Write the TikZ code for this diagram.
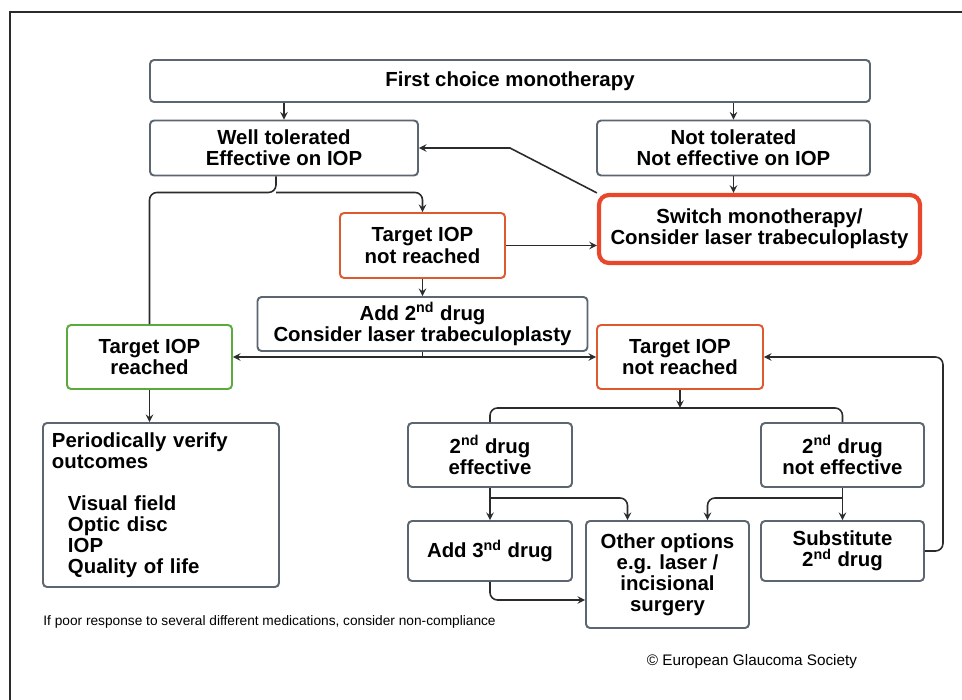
\documentclass[tikz,border=0pt]{standalone}
\usepackage{fontspec}
\setmainfont{Liberation Sans}
\usetikzlibrary{shapes.geometric, arrows}
\definecolor{boxgray}{HTML}{5C6670}
\definecolor{missred}{HTML}{DD5A2E}
\definecolor{switchred}{HTML}{E8472B}
\definecolor{okgreen}{HTML}{5AAA3C}
\definecolor{linegray}{HTML}{2B2B2B}
\tikzstyle{process} = [rectangle, rounded corners=0.08cm, align=center, draw=boxgray, line width=1.1pt, fill=white, inner sep=0.1cm, font=\bfseries\fontsize{11.6}{12}\selectfont]
\tikzstyle{notreached} = [process, draw=missred]
\tikzstyle{reached} = [process, draw=okgreen]
\tikzstyle{switchbox} = [process, draw=switchred, line width=2.4pt, rounded corners=0.2cm]
\tikzstyle{arrow} = [->,>=stealth, line width=0.9pt, draw=linegray]
\tikzstyle{branch} = [line width=0.9pt, draw=linegray, rounded corners=0.15cm]

\begin{document}
\begin{tikzpicture}[node distance=1cm]
\useasboundingbox (0,0) rectangle (19.24,-14);
%frame
\draw[linegray, line width=0.7pt] (19.24,-0.24) -- (0.2,-0.24) -- (0.2,-14);
%boxes
\node[process, minimum width=14.4cm, minimum height=0.84cm](first) at (10.2,-1.62){First choice monotherapy};
\node[process, below of=first, xshift=-4.52cm, yshift=-0.34cm, minimum width=5.36cm, minimum height=1.1cm](well){Well tolerated\\Effective on IOP};
\node[process, below of=first, xshift=4.47cm, yshift=-0.34cm, minimum width=5.46cm, minimum height=1.1cm](nottol){Not tolerated\\Not effective on IOP};
\node[switchbox, below of=nottol, xshift=0.52cm, yshift=-0.62cm, minimum width=6.42cm, minimum height=1.36cm](switch){Switch monotherapy/\\Consider laser trabeculoplasty};
\node[notreached, below of=well, xshift=2.77cm, yshift=-0.95cm, minimum width=3.3cm, minimum height=1.3cm](miss1){Target IOP\\not reached};
\node[process, below of=miss1, yshift=-0.57cm, minimum width=6.6cm, minimum height=1.08cm](add2){Add 2\textsuperscript{nd} drug\\Consider laser trabeculoplasty};
\node[reached, below of=well, xshift=-2.69cm, yshift=-3.18cm, minimum width=3.3cm, minimum height=1.28cm](reach){Target IOP\\reached};
\node[notreached, right of=reach, xshift=9.61cm, minimum width=3.32cm, minimum height=1.28cm](miss2){Target IOP\\not reached};
\node[process, below of=reach, xshift=0.23cm, yshift=-1.96cm, text width=4.36cm, minimum height=3.28cm, align=left, inner xsep=0.18cm](verify){Periodically verify\\outcomes\\[0.42cm]\hspace*{0.32cm}Visual field\\\hspace*{0.32cm}Optic disc\\\hspace*{0.32cm}IOP\\\hspace*{0.32cm}Quality of life};
\node[process, below of=miss2, xshift=-3.8cm, yshift=-0.96cm, minimum width=3.28cm, minimum height=1.28cm](eff){2\textsuperscript{nd} drug\\effective};
\node[process, right of=eff, xshift=6.05cm, minimum width=3.26cm, minimum height=1.28cm](noteff){2\textsuperscript{nd} drug\\not effective};
\node[process, below of=eff, yshift=-0.92cm, minimum width=3.28cm, minimum height=1.2cm](add3){Add 3\textsuperscript{nd} drug};
\node[process, below of=noteff, yshift=-0.92cm, minimum width=3.26cm, minimum height=1.2cm](subst){Substitute\\2\textsuperscript{nd} drug};
\node[process, right of=add3, xshift=2.55cm, yshift=-0.47cm, minimum width=3.26cm, minimum height=2.14cm](other){Other options\\e.g. laser /\\incisional\\surgery};
\node[below of=verify, anchor=west, xshift=-2.36cm, yshift=-1.34cm, inner sep=0pt, font=\fontsize{7.8}{9}\selectfont](note){If poor response to several different medications, consider non-compliance};
\node[below of=other, xshift=1.69cm, yshift=-0.75cm, font=\fontsize{8.7}{10}\selectfont](copy){\textcopyright{} European Glaucoma Society};
%connectors
\coordinate (split1) at ([xshift=-0.16cm, yshift=-0.32cm]well.south);
\coordinate (split2) at (add2 |- reach);
\coordinate (split3) at ([yshift=-0.36cm]miss2.south);
\coordinate (split4) at ([yshift=-0.2cm]eff.south);
\coordinate (split5) at ([yshift=-0.2cm]noteff.south);
\draw [arrow] (well.north |- first.south) -- (well);
\draw [arrow] (nottol.north |- first.south) -- (nottol);
\draw [arrow] (nottol) -- (nottol.south |- switch.north);
\draw [arrow] (switch.north west) -- (first |- well) -- (well);
\draw [branch] (split1 |- well.south) -- (split1) -| (reach);
\draw [arrow, rounded corners=0.15cm] (split1) -| (miss1);
\draw [arrow] (miss1.east) -- (miss1.east -| switch.west);
\draw [arrow] (miss1) -- (add2);
\draw [branch] (add2) -- (split2);
\draw [arrow] (split2) -- (reach);
\draw [arrow] (split2) -- (miss2);
\draw [arrow] (reach) -- (reach |- verify.north);
\draw [arrow] (miss2) -- (split3);
\draw [branch] (split3) -| (eff);
\draw [branch] (split3) -| (noteff);
\draw [arrow] (eff) -- (add3);
\draw [arrow, rounded corners=0.15cm] (split4) -| ([xshift=-0.8cm]other.north);
\draw [arrow] (noteff) -- (subst);
\draw [arrow, rounded corners=0.15cm] (split5) -| ([xshift=0.8cm]other.north);
\draw [arrow, rounded corners=0.15cm] (add3) |- ([yshift=-0.51cm]other.west);
\draw [arrow, rounded corners=0.15cm] (subst.east) -- ++(0.36,0) |- (miss2.east);
\end{tikzpicture}
\end{document}
